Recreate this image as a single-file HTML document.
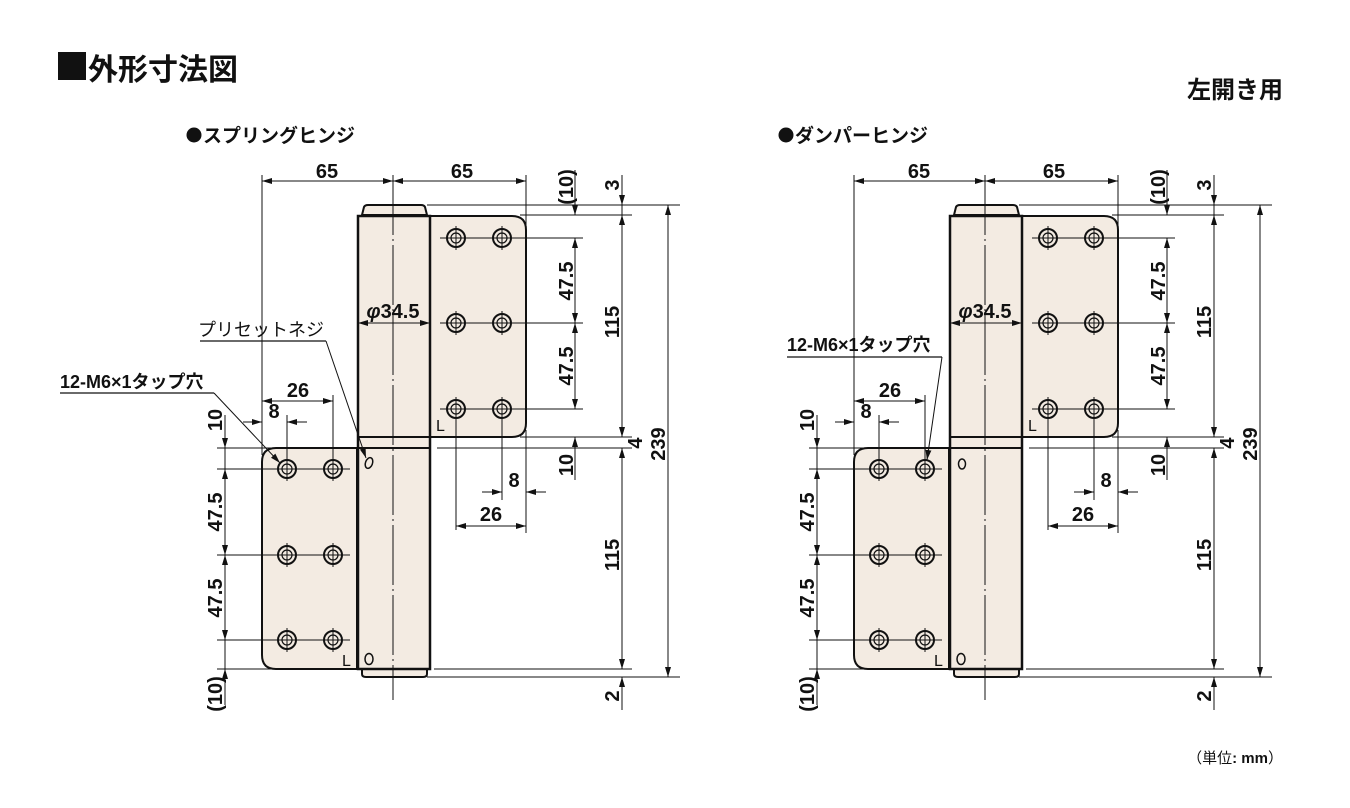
<!DOCTYPE html>
<html><head><meta charset="utf-8"><style>
html,body{margin:0;padding:0;background:#fff;}
svg{display:block}
.t{font-family:"Liberation Sans Narrow","Liberation Sans","Noto Sans CJK JP",sans-serif;font-weight:bold;fill:#111}
.j{font-family:"Liberation Sans","Noto Sans CJK JP",sans-serif;font-weight:bold;fill:#111}
</style></head><body>
<svg width="1350" height="808" viewBox="0 0 1350 808" xmlns="http://www.w3.org/2000/svg">
<defs>
<marker id="a" viewBox="0 0 10 6" refX="10" refY="3" markerWidth="10" markerHeight="6" markerUnits="userSpaceOnUse" orient="auto-start-reverse"><path d="M0,0 L10,3 L0,6 z" fill="#111"/></marker>
<g id="d">
 <path d="M362,215 L364,207 Q365,205 368,205 L421,205 Q424,205 425,207 L427,215 Z" fill="#f3ebe2" stroke="#111" stroke-width="2"/>
 <path d="M362,669 L362,674 Q362,677 366,677 L423,677 Q427,677 427,674 L427,669 Z" fill="#f3ebe2" stroke="#111" stroke-width="2"/>
 <path d="M430,216 L512,216 Q526,216 526,230 L526,423 Q526,437 512,437 L430,437 Z" fill="#f3ebe2" stroke="#111" stroke-width="2"/>
 <path d="M357,448 L276,448 Q262,448 262,462 L262,655 Q262,669 276,669 L357,669 Z" fill="#f3ebe2" stroke="#111" stroke-width="2"/>
 <rect x="358" y="216" width="72" height="453" fill="#f3ebe2" stroke="#111" stroke-width="2.5"/>
 <line x1="358" y1="437" x2="430" y2="437" stroke="#111" stroke-width="2"/>
 <line x1="358" y1="448" x2="430" y2="448" stroke="#111" stroke-width="2"/>
 <line x1="393" y1="175" x2="393" y2="700" stroke="#111" stroke-width="1" stroke-dasharray="60,4,2,4"/>
 <g stroke="#111" stroke-width="1" fill="none">
  <line x1="440" y1="238" x2="583" y2="238"/><line x1="440" y1="323" x2="583" y2="323"/><line x1="440" y1="409" x2="583" y2="409"/>
  <line x1="456" y1="226" x2="456" y2="250"/><line x1="456" y1="311" x2="456" y2="335"/><line x1="456" y1="397" x2="456" y2="530"/>
  <line x1="502" y1="226" x2="502" y2="250"/><line x1="502" y1="311" x2="502" y2="335"/><line x1="502" y1="397" x2="502" y2="500"/>
  <line x1="217" y1="469" x2="350" y2="469"/><line x1="217" y1="555" x2="350" y2="555"/><line x1="217" y1="640" x2="350" y2="640"/>
  <line x1="287" y1="415" x2="287" y2="481"/><line x1="287" y1="543" x2="287" y2="567"/><line x1="287" y1="628" x2="287" y2="652"/>
  <line x1="333" y1="395" x2="333" y2="481"/><line x1="333" y1="543" x2="333" y2="567"/><line x1="333" y1="628" x2="333" y2="652"/>
 </g>
 <g fill="none" stroke="#111">
  <g transform="translate(456,238)"><circle r="9" stroke-width="2"/><circle r="5" stroke-width="1.2"/></g>
  <g transform="translate(502,238)"><circle r="9" stroke-width="2"/><circle r="5" stroke-width="1.2"/></g>
  <g transform="translate(456,323)"><circle r="9" stroke-width="2"/><circle r="5" stroke-width="1.2"/></g>
  <g transform="translate(502,323)"><circle r="9" stroke-width="2"/><circle r="5" stroke-width="1.2"/></g>
  <g transform="translate(456,409)"><circle r="9" stroke-width="2"/><circle r="5" stroke-width="1.2"/></g>
  <g transform="translate(502,409)"><circle r="9" stroke-width="2"/><circle r="5" stroke-width="1.2"/></g>
  <g transform="translate(287,469)"><circle r="9" stroke-width="2"/><circle r="5" stroke-width="1.2"/></g>
  <g transform="translate(333,469)"><circle r="9" stroke-width="2"/><circle r="5" stroke-width="1.2"/></g>
  <g transform="translate(287,555)"><circle r="9" stroke-width="2"/><circle r="5" stroke-width="1.2"/></g>
  <g transform="translate(333,555)"><circle r="9" stroke-width="2"/><circle r="5" stroke-width="1.2"/></g>
  <g transform="translate(287,640)"><circle r="9" stroke-width="2"/><circle r="5" stroke-width="1.2"/></g>
  <g transform="translate(333,640)"><circle r="9" stroke-width="2"/><circle r="5" stroke-width="1.2"/></g>
 </g>
 <g stroke="#111" stroke-width="1">
  <line x1="262" y1="175" x2="262" y2="455"/>
  <line x1="526" y1="175" x2="526" y2="225"/>
  <line x1="526" y1="430" x2="526" y2="533"/>
  <line x1="427" y1="205" x2="680" y2="205"/>
  <line x1="520" y1="215" x2="632" y2="215"/>
  <line x1="520" y1="437" x2="632" y2="437"/>
  <line x1="437" y1="448" x2="632" y2="448"/>
  <line x1="434" y1="669" x2="632" y2="669"/>
  <line x1="427" y1="677" x2="680" y2="677"/>
  <line x1="217" y1="448" x2="272" y2="448"/>
  <line x1="217" y1="669" x2="272" y2="669"/>
 </g>
 <g stroke="#111" stroke-width="1" fill="none">
  <line x1="262" y1="181" x2="393" y2="181" marker-start="url(#a)" marker-end="url(#a)"/>
  <line x1="393" y1="181" x2="526" y2="181" marker-start="url(#a)" marker-end="url(#a)"/>
  <line x1="358" y1="323" x2="430" y2="323" marker-start="url(#a)" marker-end="url(#a)"/>
  <line x1="575" y1="170" x2="575" y2="215" marker-end="url(#a)"/>
  <line x1="575" y1="238" x2="575" y2="323" marker-start="url(#a)" marker-end="url(#a)"/>
  <line x1="575" y1="323" x2="575" y2="409" marker-start="url(#a)" marker-end="url(#a)"/>
  <line x1="575" y1="480" x2="575" y2="437" marker-end="url(#a)"/>
  <line x1="622" y1="175" x2="622" y2="205" marker-end="url(#a)"/>
  <line x1="622" y1="205" x2="622" y2="437"/>
  <line x1="622" y1="215" x2="622" y2="437" marker-start="url(#a)" marker-end="url(#a)"/>
  <line x1="622" y1="448" x2="622" y2="669" marker-start="url(#a)" marker-end="url(#a)"/>
  <line x1="622" y1="710" x2="622" y2="677" marker-end="url(#a)"/>
  <line x1="668" y1="205" x2="668" y2="677" marker-start="url(#a)" marker-end="url(#a)"/>
  <line x1="482" y1="492" x2="502" y2="492" marker-end="url(#a)"/>
  <line x1="546" y1="492" x2="526" y2="492" marker-end="url(#a)"/>
  <line x1="456" y1="526" x2="526" y2="526" marker-start="url(#a)" marker-end="url(#a)"/>
  <line x1="262" y1="401" x2="333" y2="401" marker-start="url(#a)" marker-end="url(#a)"/>
  <line x1="243" y1="422" x2="262" y2="422" marker-end="url(#a)"/>
  <line x1="307" y1="422" x2="287" y2="422" marker-end="url(#a)"/>
  <line x1="225" y1="415" x2="225" y2="448" marker-end="url(#a)"/>
  <line x1="225" y1="448" x2="225" y2="469"/>
  <line x1="225" y1="469" x2="225" y2="555" marker-start="url(#a)" marker-end="url(#a)"/>
  <line x1="225" y1="555" x2="225" y2="640" marker-start="url(#a)" marker-end="url(#a)"/>
  <line x1="225" y1="640" x2="225" y2="669"/>
  <line x1="225" y1="705" x2="225" y2="669" marker-end="url(#a)"/>
 </g>
 <g class="t" font-size="20">
  <text x="327" y="178" text-anchor="middle">65</text>
  <text x="462" y="178" text-anchor="middle">65</text>
  <text x="393" y="318" text-anchor="middle"><tspan font-style="italic">φ</tspan>34.5</text>
  <text x="514" y="487" text-anchor="middle">8</text>
  <text x="491" y="521" text-anchor="middle">26</text>
  <text x="298" y="397" text-anchor="middle">26</text>
  <text x="274" y="418" text-anchor="middle">8</text>
  <text transform="translate(573,187) rotate(-90)" text-anchor="middle">(10)</text>
  <text transform="translate(573,281) rotate(-90)" text-anchor="middle">47.5</text>
  <text transform="translate(573,366) rotate(-90)" text-anchor="middle">47.5</text>
  <text transform="translate(573,465) rotate(-90)" text-anchor="middle">10</text>
  <text transform="translate(619,185) rotate(-90)" text-anchor="middle">3</text>
  <text transform="translate(619,322) rotate(-90)" text-anchor="middle">115</text>
  <text transform="translate(642,443) rotate(-90)" text-anchor="middle">4</text>
  <text transform="translate(619,555) rotate(-90)" text-anchor="middle">115</text>
  <text transform="translate(619,696) rotate(-90)" text-anchor="middle">2</text>
  <text transform="translate(665,444) rotate(-90)" text-anchor="middle">239</text>
  <text transform="translate(222,420) rotate(-90)" text-anchor="middle">10</text>
  <text transform="translate(222,512) rotate(-90)" text-anchor="middle">47.5</text>
  <text transform="translate(222,598) rotate(-90)" text-anchor="middle">47.5</text>
  <text transform="translate(222,694) rotate(-90)" text-anchor="middle">(10)</text>
 </g>
 <g font-family="Liberation Sans, sans-serif" font-size="16" fill="#111">
  <text x="436" y="431">L</text>
  <text x="342" y="666">L</text>
 </g>
 <ellipse cx="369" cy="659" rx="4" ry="5.5" fill="none" stroke="#111" stroke-width="1.5"/>
</g>
</defs>

<rect x="58" y="52" width="28" height="28" fill="#111"/>
<text class="j" x="88" y="80" font-size="30">外形寸法図</text>
<text class="j" x="1283" y="98" font-size="24" text-anchor="end">左開き用</text>
<circle cx="194" cy="135" r="7.5" fill="#111"/>
<text class="j" x="203" y="142" font-size="19">スプリングヒンジ</text>
<circle cx="786" cy="135" r="7.5" fill="#111"/>
<text class="j" x="795" y="142" font-size="19">ダンパーヒンジ</text>
<text x="1283" y="763" font-size="15" text-anchor="end" font-family="Liberation Sans,'Noto Sans CJK JP',sans-serif" fill="#111">（単位<tspan font-weight="bold">: mm</tspan>）</text>

<use href="#d"/>
<use href="#d" transform="translate(592,0)"/>

<ellipse cx="369" cy="463" rx="3.5" ry="5.5" transform="rotate(20 369 463)" fill="none" stroke="#111" stroke-width="1.5"/>
<text x="198" y="336" font-size="18" font-family="Liberation Sans,'Noto Sans CJK JP',sans-serif" fill="#111">プリセットネジ</text>
<line x1="200" y1="341" x2="326" y2="341" stroke="#111" stroke-width="1.2"/>
<line x1="326" y1="341" x2="366" y2="458" stroke="#111" stroke-width="1" marker-end="url(#a)"/>
<text class="j" x="60" y="388" font-size="18">12-M6×1タップ穴</text>
<line x1="60" y1="393" x2="214" y2="393" stroke="#111" stroke-width="1.2"/>
<line x1="214" y1="393" x2="280" y2="463" stroke="#111" stroke-width="1" marker-end="url(#a)"/>

<ellipse cx="962" cy="464" rx="3.5" ry="5" fill="none" stroke="#111" stroke-width="1.5"/>
<text class="j" x="787" y="351" font-size="18">12-M6×1タップ穴</text>
<line x1="787" y1="357" x2="942" y2="357" stroke="#111" stroke-width="1.2"/>
<line x1="942" y1="357" x2="927" y2="460" stroke="#111" stroke-width="1" marker-end="url(#a)"/>
</svg>
</body></html>
